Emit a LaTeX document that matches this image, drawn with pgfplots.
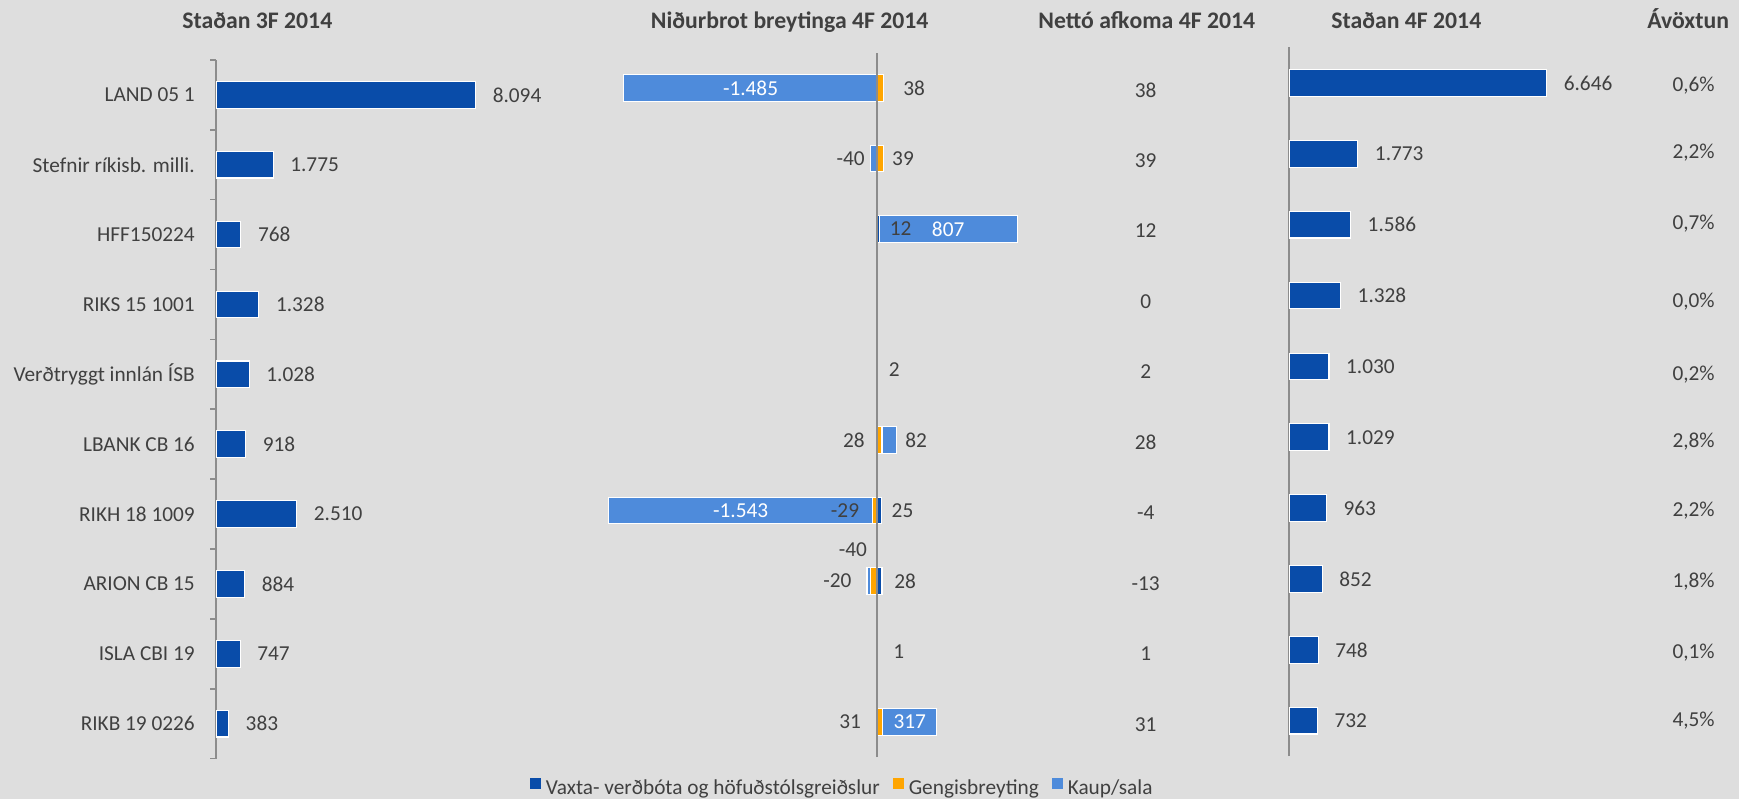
\documentclass[border=0pt]{standalone}
\usepackage{pgfplots}
\pgfplotsset{compat=1.18}
\usepackage{fontspec}
\setmainfont{Carlito}

\definecolor{bg}{HTML}{DEDEDE}
\definecolor{dkblue}{HTML}{094CA9}
\definecolor{ltblue}{HTML}{4E8BDB}
\definecolor{orng}{HTML}{FFA500}
\definecolor{axgray}{HTML}{8C8C8C}
\definecolor{txt}{HTML}{404040}

\newcommand{\bodyfont}{\fontsize{9.6pt}{11pt}\selectfont}
\newcommand{\titlefont}{\fontsize{10.7pt}{12pt}\selectfont\bfseries}

\pgfplotsset{
  panel/.style={scale only axis, anchor=south west, clip=false,
    ymin=-0.5, ymax=9.5, xtick=\empty, ytick=\empty,
    font=\bodyfont,
    /pgf/number format/assume math mode=true,
    /pgf/number format/1000 sep={.}},
  bars/.style={fill=dkblue, draw=white, line width=0.5pt},
  barlabels/.style={nodes near coords, point meta=x,
    every node near coord/.append style={anchor=west, inner sep=0pt, xshift=7.5pt, text=txt, font=\bodyfont}},
  lab/.style={draw=none, mark=none, nodes near coords, point meta=explicit symbolic,
    every node near coord/.append style={inner sep=0pt, font=\bodyfont, #1}},
}

\begin{document}
\begin{tikzpicture}
\fill[bg] (0,0) rectangle (784pt,360pt);
\useasboundingbox (0,0) rectangle (784pt,360pt);

% Stadan 3F 2014
\begin{axis}[panel, at={(97.5pt,18pt)}, width=130pt, height=315pt,
  xmin=0, xmax=9000, xbar, bar width=12pt,
  axis x line=none, axis y line*=left,
  y axis line style={axgray, line width=0.75pt, -},
  ytick={0,...,9},
  yticklabels={RIKB 19 0226, ISLA CBI 19, ARION CB 15, RIKH 18 1009, LBANK CB 16,
    Verðtryggt innlán ÍSB, RIKS 15 1001, HFF150224, Stefnir ríkisb. milli., LAND 05 1},
  minor ytick={-0.5,0.5,...,9.5},
  tick align=outside, major tick length=0pt, minor tick length=2.7pt,
  minor tick style={axgray, line width=0.75pt},
  yticklabel style={anchor=east, inner sep=0pt, xshift=-9.5pt, text=txt},
  barlabels]
\addplot[bars] coordinates {(8094,9) (1775,8) (768,7) (1328,6) (1028,5)
  (918,4) (2510,3) (884,2) (747,1) (383,0)};
\end{axis}

% Nidurbrot: positive parts
\begin{axis}[panel, at={(264.6pt,18.7pt)}, width=207.9pt, height=317.5pt,
  xmin=-1700, xmax=1000, hide axis, xbar stacked, bar width=12pt,
  legend columns=3,
  legend style={draw=none, fill=none, at={(0.553,-0.0447)}, anchor=center,
    font=\bodyfont, text=txt, inner sep=0pt, nodes={inner sep=0.5pt},
    /tikz/every even column/.append style={column sep=5.5pt}},
  legend image code/.code={\fill[#1, draw=none] (0pt,-0.2pt) rectangle (4.8pt,4.6pt);
    \path (6.3pt,0pt);}]
\addplot[bars, fill=dkblue] coordinates {(0,9) (0,8) (12,7) (0,6) (2,5)
  (0,4) (25,3) (28,2) (1,1) (0,0)};
\addplot[bars, fill=orng] coordinates {(38,9) (39,8) (0,7) (0,6) (0,5)
  (28,4) (0,3) (0,2) (0,1) (31,0)};
\addplot[bars, fill=ltblue] coordinates {(0,9) (0,8) (807,7) (0,6) (0,5)
  (82,4) (0,3) (0,2) (0,1) (317,0)};
\legend{Vaxta- verðbóta og höfuðstólsgreiðslur, Gengisbreyting, Kaup/sala}
\end{axis}

% Nidurbrot: negative parts
\begin{axis}[panel, at={(264.6pt,18.7pt)}, width=207.9pt, height=317.5pt,
  xmin=-1700, xmax=1000, hide axis, xbar stacked, bar width=12pt]
\addplot[bars, fill=orng] coordinates {(0,9) (0,8) (0,7) (0,6) (0,5)
  (0,4) (-29,3) (-40,2) (0,1) (0,0)};
\addplot[bars, fill=ltblue] coordinates {(-1485,9) (-40,8) (0,7) (0,6) (0,5)
  (0,4) (-1543,3) (-20,2) (0,1) (0,0)};
\end{axis}

% Nidurbrot: labels and axis line
\begin{axis}[panel, at={(264.6pt,18.7pt)}, width=207.9pt, height=317.5pt,
  xmin=-1700, xmax=1000, hide axis]
\draw[axgray, line width=0.75pt] (axis cs:0,-0.5) -- (axis cs:0,9.5);
\addplot[lab={anchor=west, text=txt}] table[meta=l] {
x y l
150 9 38
85 8 39
71 7 12
65 5 2
162 4 82
82 3 25
97 2 28
91 1 1
};
\addplot[lab={anchor=east, text=txt}] table[meta=l] {
x y l
-71 8 -40
-71 4 28
-104 3 -29
-58 2.44 -40
-149 2 -20
-93 0 31
};
\addplot[lab={anchor=center, text=white}] table[meta=l] {
x y l
-742 9 -1.485
415 7 807
-800 3 -1.543
190 0 317
};
\end{axis}

% Stadan 4F 2014
\begin{axis}[panel, at={(581.15pt,19.1pt)}, width=122.3pt, height=319.5pt,
  xmin=0, xmax=7000, xbar, bar width=12pt,
  axis x line=none, axis y line*=left,
  y axis line style={axgray, line width=0.75pt, -},
  barlabels]
\addplot[bars] coordinates {(6646,9) (1773,8) (1586,7) (1328,6) (1030,5)
  (1029,4) (963,3) (852,2) (748,1) (732,0)};
\end{axis}

% text columns
\begin{axis}[scale only axis, anchor=south west, at={(0pt,0pt)}, width=784pt, height=360pt,
  xmin=0, xmax=1568, ymin=0, ymax=720, hide axis, clip=false]
\addplot[lab={anchor=center, text=txt}] table[meta=l] {
x y l
1033 639 38
1033 575 39
1033 512 12
1033 448 0
1033 385 2
1033 321 28
1033 258 -4
1033 194 -13
1033 131 1
1033 67 31
};
\addplot[lab={anchor=center, text=txt}] table[meta=l] {
x y l
1527 643 0,6\%
1527 582 2,2\%
1527 518 0,7\%
1527 448 0,0\%
1527 382 0,2\%
1527 322 2,8\%
1527 260 2,2\%
1527 196 1,8\%
1527 132 0,1\%
1527 70 4,5\%
};
\end{axis}

\node[anchor=base, font=\titlefont, text=txt] at (116pt,347.2pt) {Staðan 3F 2014};
\node[anchor=base, font=\titlefont, text=txt] at (356pt,347.2pt) {Niðurbrot breytinga 4F 2014};
\node[anchor=base, font=\titlefont, text=txt] at (517pt,347.2pt) {Nettó afkoma 4F 2014};
\node[anchor=base, font=\titlefont, text=txt] at (634pt,347.2pt) {Staðan 4F 2014};
\node[anchor=base east, font=\titlefont, text=txt] at (783pt,347.2pt) {Ávöxtun};
\end{tikzpicture}
\end{document}
